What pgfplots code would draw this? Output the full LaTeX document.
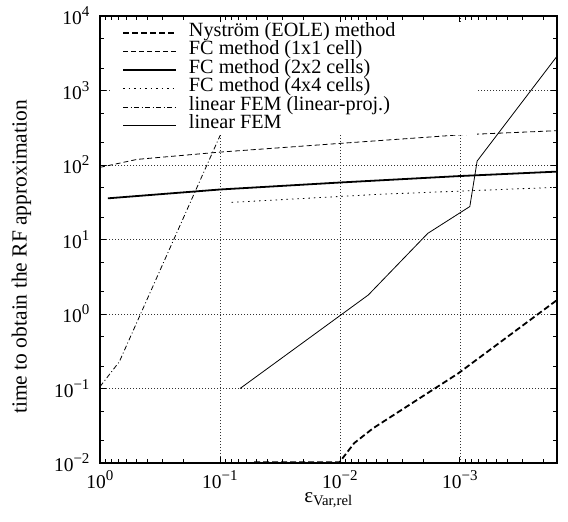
\documentclass[border=0pt]{standalone}
\usepackage{fontspec}
\setmainfont{Liberation Serif}
\usepackage{pgfplots}
\pgfplotsset{compat=1.18}

% power of ten in text font, with a gnuplot-like large exponent
\newcommand{\ex}[1]{10\raisebox{0.42em}{\fontsize{15bp}{15bp}\selectfont #1}}

\begin{document}
\fontsize{19bp}{19bp}\selectfont
\begin{tikzpicture}
  \begin{axis}[
      scale only axis,
      width=457bp, height=447bp,
      xmode=log, ymode=log,
      x dir=reverse,
      xmin=1.55e-4, xmax=1,
      ymin=1e-2, ymax=1e4,
      xtick={1,0.1,0.01,0.001},
      xticklabels={\ex{0},\ex{−1},\ex{−2},\ex{−3}},
      minor xtick={0.9,0.8,0.7,0.6,0.5,0.4,0.3,0.2,
        0.09,0.08,0.07,0.06,0.05,0.04,0.03,0.02,
        0.009,0.008,0.007,0.006,0.005,0.004,0.003,0.002,
        0.0009,0.0008,0.0007,0.0006,0.0005,0.0004,0.0003,0.0002},
      ytick={1e-2,1e-1,1,1e1,1e2,1e3,1e4},
      yticklabels={\ex{−2},\ex{−1},\ex{0},\ex{1},\ex{2},\ex{3},\ex{4}},
      minor ytick={0.02,0.05,0.2,0.5,2,5,20,50,200,500,2000,5000},
      major tick length=6bp, minor tick length=4bp,
      tick style={black, line width=0.8bp},
      axis line style={line width=1.5bp},
      tick label style={font=\fontsize{19.5bp}{19.5bp}\selectfont},
      yticklabel style={xshift=-4bp},
      xticklabel style={yshift=-1bp},
      grid=major,
      major grid style={black!80, line width=0.7bp, dash pattern=on 0.9bp off 2.1bp},
      xlabel={ε\textsubscript{Var,rel}},
      xlabel style={at={(axis description cs:0.5,0)}, anchor=center, yshift=-37bp, font=\fontsize{21bp}{21bp}\selectfont},
      ylabel={time to obtain the RF approximation},
      ylabel style={at={(axis description cs:-0.172,0.461)}, anchor=center, font=\fontsize{21.5bp}{21.5bp}\selectfont},
      legend cell align=left,
      legend image code/.code={\draw[#1] (0bp,0bp) -- (53bp,0bp);},
      legend style={at={(axis description cs:0,1)}, anchor=north west,
        xshift=10bp, yshift=-8bp, draw=none, fill=white,
        inner xsep=12bp, inner ysep=0bp, column sep=12bp,
        font=\fontsize{20.2bp}{20.2bp}\selectfont,
        nodes={inner sep=0pt, text height=12.4bp, text depth=6bp}},
    ]
    % Nystrom (EOLE)
    \addplot[black, line width=1.8bp, dash pattern=on 6bp off 3bp] coordinates {
      (0.052,0.0102) (0.0101,0.0102) (0.0076,0.0185) (0.0053,0.0292) (0.00103,0.16) (0.000155,1.54)
    };
    \addlegendentry{\makebox[276bp][l]{Nyström (EOLE) method}}
    % FC 1x1
    \addplot[black, line width=0.8bp, dash pattern=on 5bp off 3bp] coordinates {
      (1,93) (0.49,119) (0.1,149) (0.01,195) (0.00103,253) (0.000155,289)
    };
    \addlegendentry{FC method (1x1 cell)}
    % FC 2x2
    \addplot[black, line width=1.8bp] coordinates {
      (0.86,35.7) (0.1,46.9) (0.01,58.2) (0.001,71.1) (0.000155,81.5)
    };
    \addlegendentry{FC method (2x2 cells)}
    % FC 4x4
    \addplot[black, line width=0.8bp, dash pattern=on 1.5bp off 4bp] coordinates {
      (0.08,31.5) (0.0046,40.5) (0.000155,50.2)
    };
    \addlegendentry{FC method (4x4 cells)}
    % linear FEM (linear-proj.)
    \addplot[black, line width=0.8bp, dash pattern=on 5bp off 2.5bp on 1bp off 2.5bp] coordinates {
      (1,0.106) (0.69,0.229) (0.0957,289)
    };
    \addlegendentry{linear FEM (linear-proj.)}
    % linear FEM
    \addplot[black, line width=0.8bp] coordinates {
      (0.068,0.1) (0.0058,1.8) (0.00185,12.1) (0.000826,27.7) (0.000718,113) (0.000156,2845)
    };
    \addlegendentry{linear FEM}
  \end{axis}
  \pgfresetboundingbox
  \path[use as bounding box] (-100bp,-59bp) rectangle (468bp,463bp);
\end{tikzpicture}
\end{document}
